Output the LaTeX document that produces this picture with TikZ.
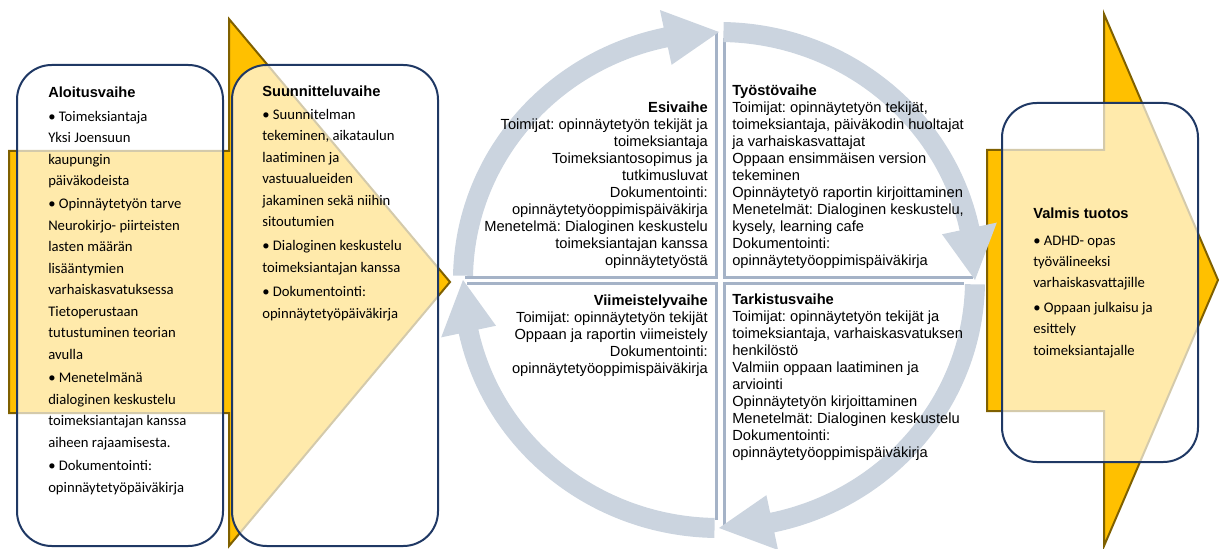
\documentclass[tikz,border=0pt]{standalone}
\usepackage{fontspec}
\setmainfont{Liberation Sans}
\newfontfamily\calibri{Carlito}
\definecolor{keltainen}{HTML}{FFC000}
\definecolor{ruskea}{HTML}{7F6000}
\definecolor{laivasto}{HTML}{1F3864}
\definecolor{kierto}{HTML}{CBD4DF}
\definecolor{rajaviiva}{HTML}{A5B3C7}
\frenchspacing

\begin{document}
\begin{tikzpicture}[x=0.75pt,y=-0.75pt]
\tikzset{nuoli/.style={draw=ruskea, fill=keltainen, line width=1.5pt, line join=miter}}
\tikzset{laatikko/.style={draw=laivasto, fill=white, fill opacity=0.67, line width=1.5pt, rounded corners=26pt}}
\tikzset{kaari/.style={fill=kierto}}
\tikzset{raja/.style={draw=rajaviiva, line width=2.25pt}}
\tikzset{vaihe/.style={inner sep=0pt, font=\fontsize{11}{12.7}\selectfont}}
\tikzset{lista/.style={inner sep=0pt, align=left, font=\calibri\fontsize{11}{16.1}\selectfont}}
\useasboundingbox (0,0) rectangle (1227,549);
\draw[nuoli] (9,151) -- (229,151) -- (229,19) -- (450,282) -- (229,546) -- (229,413) -- (9,413) -- cycle;
\draw[nuoli] (987,150) -- (1104,150) -- (1104,14) -- (1218,280) -- (1104,546) -- (1104,411) -- (987,411) -- cycle;
\draw[laatikko] (17,65) rectangle (223,546);
\draw[laatikko] (232,65) rectangle (438,546);
\draw[laatikko] (1002,103) rectangle (1198,462);
\draw[raja] (716,32) -- (716,277) -- (465,277);
\draw[raja] (724,38) -- (724,277) -- (973,277);
\draw[raja] (716,520) -- (716,283) -- (467,283);
\draw[raja] (724,528) -- (724,283) -- (964,283);
\begin{scope}[shift={(719,280)}]
\fill[kaari] (181:266 and 258) arc[start angle=181, end angle=258, x radius=266, y radius=258] -- (258:284 and 276) -- (270:256 and 248) -- (258:228 and 220) -- (258:246 and 238) arc[start angle=258, end angle=181, x radius=246, y radius=238] -- cycle;
\fill[kaari] (271:266 and 258) arc[start angle=271, end angle=348, x radius=266, y radius=258] -- (348:284 and 276) -- (360:256 and 248) -- (348:228 and 220) -- (348:246 and 238) arc[start angle=348, end angle=271, x radius=246, y radius=238] -- cycle;
\fill[kaari] (1:266 and 258) arc[start angle=1, end angle=78, x radius=266, y radius=258] -- (78:284 and 276) -- (90:256 and 248) -- (78:228 and 220) -- (78:246 and 238) arc[start angle=78, end angle=1, x radius=246, y radius=238] -- cycle;
\fill[kaari] (91:266 and 258) arc[start angle=91, end angle=168, x radius=266, y radius=258] -- (168:284 and 276) -- (180:256 and 248) -- (168:228 and 220) -- (168:246 and 238) arc[start angle=168, end angle=91, x radius=246, y radius=238] -- cycle;
\end{scope}
\node[lista, anchor=base west] (B1) at (48,492) {{\rmfamily\bfseries Aloitusvaihe}\\[1.5pt]
• Toimeksiantaja\\Yksi Joensuun\\kaupungin\\päiväkodeista\\[1.5pt]
• Opinnäytetyön tarve\\Neurokirjo- piirteisten\\lasten määrän\\lisääntymien\\varhaiskasvatuksessa\\Tietoperustaan\\tutustuminen teorian\\avulla\\[1.5pt]
• Menetelmänä\\dialoginen keskustelu\\toimeksiantajan kanssa\\aiheen rajaamisesta.\\[1.5pt]
• Dokumentointi:\\opinnäytetyöpäiväkirja};
\node[lista, anchor=base west] (B2) at (262,318) {{\rmfamily\bfseries Suunnitteluvaihe}\\[1.5pt]
• Suunnitelman\\tekeminen, aikataulun\\laatiminen ja\\vastuualueiden\\jakaminen sekä niihin\\sitoutumien\\[2pt]
• Dialoginen keskustelu\\toimeksiantajan kanssa\\[2pt]
• Dokumentointi:\\opinnäytetyöpäiväkirja};
\node[lista, anchor=base west] (B3) at (1033,355) {{\rmfamily\bfseries Valmis tuotos}\\[3.5pt]
• ADHD- opas\\työvälineeksi\\varhaiskasvattajille\\[2pt]
• Oppaan julkaisu ja\\esittely\\toimeksiantajalle};
\node[vaihe, anchor=base east, align=right] (Q1) at (708,265) {\textbf{Esivaihe}\\Toimijat: opinnäytetyön tekijät ja\\toimeksiantaja\\Toimeksiantosopimus ja\\tutkimusluvat\\Dokumentointi:\\opinnäytetyöoppimispäiväkirja\\Menetelmä: Dialoginen keskustelu\\toimeksiantajan kanssa\\opinnäytetyöstä};
\node[vaihe, anchor=base west, align=left] (Q2) at (732,265) {\textbf{Työstövaihe}\\Toimijat: opinnäytetyön tekijät,\\toimeksiantaja, päiväkodin huoltajat\\ja varhaiskasvattajat\\Oppaan ensimmäisen version\\tekeminen\\Opinnäytetyö raportin kirjoittaminen\\Menetelmät: Dialoginen keskustelu,\\kysely, learning cafe\\Dokumentointi:\\opinnäytetyöoppimispäiväkirja};
\node[vaihe, anchor=base east, align=right] (Q3) at (708,373) {\textbf{Viimeistelyvaihe}\\Toimijat: opinnäytetyön tekijät\\Oppaan ja raportin viimeistely\\Dokumentointi:\\opinnäytetyöoppimispäiväkirja};
\node[vaihe, anchor=base west, align=left] (Q4) at (732,457) {\textbf{Tarkistusvaihe}\\Toimijat: opinnäytetyön tekijät ja\\toimeksiantaja, varhaiskasvatuksen\\henkilöstö\\Valmiin oppaan laatiminen ja\\arviointi\\Opinnäytetyön kirjoittaminen\\Menetelmät: Dialoginen keskustelu\\Dokumentointi:\\opinnäytetyöoppimispäiväkirja};
\end{tikzpicture}
\end{document}
